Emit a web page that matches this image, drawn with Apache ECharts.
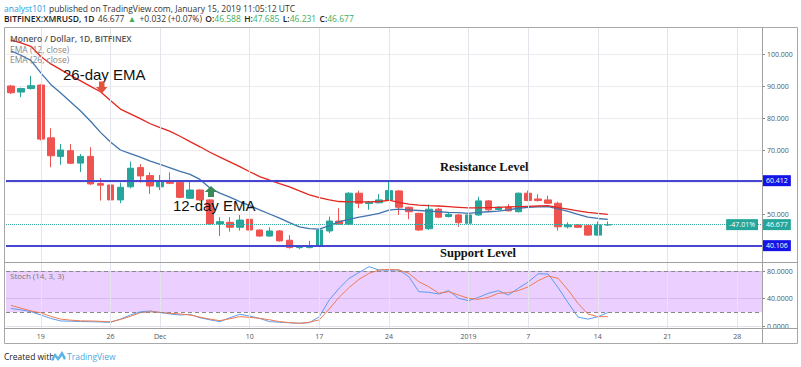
<!DOCTYPE html>
<html><head><meta charset="utf-8">
<script src="https://cdn.jsdelivr.net/npm/echarts@6/dist/echarts.min.js"></script>
<style>html,body{margin:0;padding:0;background:#fff}#c{width:801px;height:367px}</style>
</head><body><div id="c"></div><script>
const categories = ['11-16','11-17','11-18','11-19','11-20','11-21','11-22','11-23','11-24','11-25','11-26','11-27','11-28','11-29','11-30',
'12-01','12-02','12-03','12-04','12-05','12-06','12-07','12-08','12-09','12-10','12-11','12-12','12-13','12-14','12-15','12-16','12-17','12-18','12-19','12-20','12-21','12-22','12-23','12-24','12-25','12-26','12-27','12-28','12-29','12-30','12-31',
'01-01','01-02','01-03','01-04','01-05','01-06','01-07','01-08','01-09','01-10','01-11','01-12','01-13','01-14','01-15','01-16','01-17','01-18','01-19','01-20','01-21','01-22','01-23','01-24','01-25','01-26','01-27','01-28','01-29','01-30'];
const tickDates = ['11-19','11-26','12-01','12-10','12-17','12-24','01-01','01-07','01-14','01-21','01-28'];
const tickTexts = ['19','26','Dec','10','17','24','2019','7','14','21','28'];

const opens  = [90.0,88.1,89.2,90.3,73.8,68.0,69.8,65.9,68.0,59.5,59.07,54.4,58.5,64.5,62.0,58.5,60.3,59.9,54.9,57.5,54.4,46.9,47.4,45.85,48.35,45.0,43.1,44.7,41.8,39.5,39.5,40.0,44.7,47.8,46.8,56.5,53.3,53.5,54.4,57.2,52.1,50.2,45.4,51.5,49.2,49.7,47.1,49.7,54.1,51.4,52.1,50.7,56.5,54.7,54.4,53.35,46.0,46.6,46.35,43.4,46.588];
const closes = [87.9,89.2,90.1,73.4,68.2,70.0,65.85,68.0,59.4,59.0,54.4,58.35,64.3,61.9,58.75,60.3,59.6,55.2,57.5,54.4,46.9,47.6,45.85,48.1,45.0,43.1,44.7,41.6,39.5,39.6,40.0,45.0,47.8,46.8,56.5,53.35,53.7,54.4,57.3,52.1,50.7,45.0,51.5,49.0,49.9,47.3,49.7,54.1,51.3,52.1,51.0,56.5,54.2,54.2,53.35,46.0,46.6,45.85,43.4,46.6,46.677];
const lows   = [87.5,86.5,88.9,73.0,64.6,65.4,65.6,63.1,59.1,54.2,53.1,53.4,58.0,59.8,56.3,57.5,59.3,54.9,54.7,54.2,46.7,43.1,44.5,44.8,44.8,42.9,42.9,41.4,39.2,39.0,39.3,39.7,44.0,46.6,46.5,51.8,51.3,53.3,54.2,49.7,48.35,44.7,45.0,48.7,48.9,46.0,46.8,49.4,51.0,51.1,50.8,50.5,54.0,53.9,53.1,44.8,45.5,45.6,43.2,43.2,46.231];
const highs  = [90.3,89.5,93.2,90.5,76.8,71.9,71.9,68.75,70.85,61.2,61.5,59.8,66.35,65.6,63.0,62.2,63.0,60.3,60.1,57.7,54.6,49.0,49.0,49.7,48.85,45.2,45.85,45.0,43.4,40.0,41.6,45.2,49.2,51.8,56.8,57.3,54.0,56.2,60.3,57.5,52.3,50.4,53.0,51.9,50.3,50.0,50.1,55.4,54.4,52.4,53.1,56.7,57.3,56.2,55.7,53.85,47.4,46.8,46.6,47.6,47.685];

const ema12 = [101.0,99.6,98.0,94.1,90.5,87.8,85.0,82.2,79.0,75.5,72.5,70.0,68.9,67.8,66.5,65.5,64.4,63.3,62.4,60.8,58.1,56.5,55.3,53.85,52.6,51.3,50.0,48.7,47.3,46.0,45.4,45.3,46.4,47.6,48.3,49.0,49.6,50.2,51.2,51.5,51.3,51.1,50.9,50.7,50.5,50.4,50.2,50.5,50.7,50.9,51.3,51.8,52.1,52.2,52.3,51.6,50.8,49.9,49.0,48.6,48.35];
const ema26 = [104.3,103.5,102.4,99.2,96.9,95.1,93.3,91.6,89.9,88.2,85.5,82.8,81.3,79.8,78.2,77.0,75.8,74.3,72.6,71.0,69.3,67.8,66.3,64.8,63.2,61.7,60.6,59.5,58.5,57.2,56.0,55.1,54.4,53.9,53.8,53.8,53.8,53.9,54.3,53.6,53.1,52.8,52.6,52.5,52.3,52.1,51.9,51.9,52.0,52.1,52.2,52.3,52.4,52.5,52.6,52.0,51.5,51.0,50.5,50.2,49.9];

const stochK = [25.5,23.5,21,16,11,7.3,7,6.5,6.3,5.8,5.3,10,16,20.6,21.8,19.5,17.5,16,17,12,9,6.3,12,17,14.5,11,6.3,5.5,4.7,3.9,4.8,13.6,38,55,69.3,78,86.3,81.5,81,81.5,71.7,49.9,49,46.5,51.4,40.3,36.8,41.7,47.6,51.4,45,54.8,64,76,75.6,56,34,13,10,13.5,19.4];
const stochD = [30,26,22,19,14,10,8.5,7.5,7.3,6.8,6,9.5,14,19.4,20.6,20,18.5,17.5,16,13,10,7.8,10.5,13.6,12.5,11.2,9,6.3,5,3.9,5.5,9,25,42,56,68,76.6,81.5,82.5,81.5,76.6,64.4,57.1,47.6,50,45,40.3,38.8,41.7,47.6,48.5,51.4,57,65.9,72.7,69.3,52.4,33,17.5,13.6,13.6];

const resistance = 60.412, support = 40.106, lastClose = 46.677, lastChangeText = '-47.01%';
const stochUpper = 80, stochLower = 20;

const candleData = opens.map((o, i) => [o, closes[i], lows[i], highs[i]]);
const UP = '#26a69a', DOWN = '#ef5350';
const FONT = '"Open Sans", "Liberation Sans", sans-serif';

const chart = echarts.init(document.getElementById('c'), null, {renderer: 'svg'});
const baseGrid = {left: 6, right: 39};
const option = {
  animation: false,
  backgroundColor: '#ffffff',
  grid: [
    Object.assign({top: 54, height: 192}, baseGrid),
    Object.assign({top: 271, height: 55}, baseGrid),
    Object.assign({top: 27, height: 301}, baseGrid)
  ],
  xAxis: [
    {type: 'category', gridIndex: 0, data: categories, boundaryGap: true, show: false},
    {type: 'category', gridIndex: 1, data: categories, boundaryGap: true,
     axisLine: {show: false}, axisTick: {show: false}, splitLine: {show: false},
     axisLabel: {interval: (i, v) => tickDates.indexOf(v) >= 0, formatter: v => tickTexts[tickDates.indexOf(v)],
       color: '#555', fontSize: 7, fontFamily: FONT, margin: 7}},
    {type: 'category', gridIndex: 2, data: categories, boundaryGap: true, show: false}
  ],
  yAxis: [
    {type: 'value', gridIndex: 0, position: 'right', min: 40, max: 100, interval: 10, scale: true,
     axisLine: {show: false}, axisTick: {show: true, length: 3, lineStyle: {color: '#888'}},
     splitLine: {lineStyle: {color: '#ececf0'}},
     axisLabel: {color: '#555', fontSize: 7, fontFamily: FONT, margin: 5,
       formatter: v => (v === 40 || v === 60) ? '' : v.toFixed(3)}},
    {type: 'value', gridIndex: 1, position: 'right', min: 0, max: 80, interval: 40,
     axisLine: {show: false}, axisTick: {show: true, length: 3, lineStyle: {color: '#888'}},
     splitLine: {lineStyle: {color: '#e6e0ee'}},
     axisLabel: {color: '#555', fontSize: 7, fontFamily: FONT, margin: 5, formatter: v => v.toFixed(4)}},
    {type: 'value', gridIndex: 2, min: 0, max: 1, show: false}
  ],
  series: [
    {type: 'line', xAxisIndex: 2, yAxisIndex: 2, data: categories.map(() => null), silent: true, z: 1,
     markLine: {silent: true, symbol: 'none', label: {show: false},
       lineStyle: {color: '#e4e4ec', width: 1, type: 'solid'},
       data: tickDates.map(d => ({xAxis: d}))}},
    {type: 'candlestick', name: 'XMRUSD', xAxisIndex: 0, yAxisIndex: 0, data: candleData, barWidth: 7, clip: false, z: 3,
     itemStyle: {color: UP, color0: DOWN, borderColor: UP, borderColor0: DOWN, borderWidth: 1},
     markLine: {silent: true, symbol: 'none', animation: false,
       data: [
         {yAxis: resistance, lineStyle: {color: '#4646d2', width: 2, type: 'solid'},
          label: {show: true, position: 'end', distance: 0, formatter: resistance.toFixed(3), backgroundColor: '#1414e6', color: '#fff', fontSize: 7, fontFamily: FONT, padding: [2, 3, 2, 4]}},
         {yAxis: support, lineStyle: {color: '#4646d2', width: 2, type: 'solid'},
          label: {show: true, position: 'end', distance: 0, formatter: support.toFixed(3), backgroundColor: '#1414e6', color: '#fff', fontSize: 7, fontFamily: FONT, padding: [2, 3, 2, 4]}},
         {yAxis: lastClose, lineStyle: {color: '#3aaea2', width: 1, type: 'dotted'},
          label: {show: true, position: 'end', distance: 0, formatter: lastClose.toFixed(3), backgroundColor: '#26a69a', color: '#fff', fontSize: 7, fontFamily: FONT, padding: [2, 3, 2, 4]}}
       ]}},
    {type: 'line', name: 'EMA (12, close)', xAxisIndex: 0, yAxisIndex: 0, data: ema12, showSymbol: false, clip: false, z: 4,
     lineStyle: {color: '#3f74ad', width: 1.3}},
    {type: 'line', name: 'EMA (26, close)', xAxisIndex: 0, yAxisIndex: 0, data: ema26, showSymbol: false, clip: false, z: 4,
     lineStyle: {color: '#e3261f', width: 1.3}},
    {type: 'line', name: '%K', xAxisIndex: 1, yAxisIndex: 1, data: stochK, showSymbol: false, clip: false, z: 4,
     lineStyle: {color: '#5a9cf2', width: 1},
     markArea: {silent: true, itemStyle: {color: 'rgba(153,21,255,0.2)'}, data: [[{yAxis: stochLower}, {yAxis: stochUpper}]]},
     markLine: {silent: true, symbol: 'none', label: {show: false}, lineStyle: {color: '#8a8a8a', width: 1, type: [4, 3]},
       data: [{yAxis: stochUpper}, {yAxis: stochLower}]}},
    {type: 'line', name: '%D', xAxisIndex: 1, yAxisIndex: 1, data: stochD, showSymbol: false, clip: false, z: 4,
     lineStyle: {color: '#f07a50', width: 1}}
  ]
};
chart.setOption(option);

const yLast = chart.convertToPixel({yAxisIndex: 0}, lastClose);
const green = '#3fae5a';
const graphics = [
  // frame
  {type: 'rect', shape: {x: 4.5, y: 27.5, width: 793, height: 316}, style: {fill: 'none', stroke: '#a8a8a8', lineWidth: 1}, z: 50, silent: true},
  {type: 'line', shape: {x1: 4, y1: 262.5, x2: 798, y2: 262.5}, style: {stroke: '#a0a0a0', lineWidth: 1}, z: 50, silent: true},
  {type: 'line', shape: {x1: 4, y1: 328.5, x2: 798, y2: 328.5}, style: {stroke: '#a0a0a0', lineWidth: 1}, z: 50, silent: true},
  {type: 'line', shape: {x1: 762.5, y1: 27, x2: 762.5, y2: 343}, style: {stroke: '#a0a0a0', lineWidth: 1}, z: 50, silent: true},
  // header
  {type: 'text', x: 4, y: 8, z: 60, style: {text: '{a|analyst101}{b| published on TradingView.com, January 15, 2019 11:05:12 UTC}',
    verticalAlign: 'middle', rich: {a: {fill: '#2a9be0', font: '8.5px ' + FONT}, b: {fill: '#333', font: '8.5px ' + FONT}}}},
  {type: 'text', x: 4, y: 18, z: 60, style: {text: '{k|BITFINEX:XMRUSD, 1D} {n|46.677} {g|▲} {n|+0.032 (+0.07%)} {k|O:}{g|46.588} {k|H:}{g|47.685} {k|L:}{g|46.231} {k|C:}{g|46.677}',
    verticalAlign: 'middle', rich: {k: {fill: '#222', font: '600 8.5px ' + FONT}, n: {fill: '#333', font: '8.5px ' + FONT}, g: {fill: green, font: '8.5px ' + FONT}}}},
  // legend texts
  {type: 'text', x: 10, y: 38.5, z: 60, style: {text: 'Monero / Dollar, 1D, BITFINEX', fill: '#555', font: '600 8.5px ' + FONT, verticalAlign: 'middle'}},
  {type: 'text', x: 10, y: 49, z: 60, style: {text: 'EMA (12, close)', fill: '#888', font: '8.5px ' + FONT, verticalAlign: 'middle'}},
  {type: 'text', x: 10, y: 59.5, z: 60, style: {text: 'EMA (26, close)', fill: '#888', font: '8.5px ' + FONT, verticalAlign: 'middle'}},
  {type: 'text', x: 10, y: 275, z: 60, style: {text: 'Stoch (14, 3, 3)', fill: '#777', font: '8px ' + FONT, verticalAlign: 'middle'}},
  // annotations
  {type: 'text', x: 63, y: 74, z: 60, style: {text: '26-day EMA', fill: '#111', font: '15px "Liberation Sans", Arial, sans-serif', verticalAlign: 'middle'}},
  {type: 'polygon', z: 60, shape: {points: [[99,81.5],[104.5,81.5],[104.5,87],[107.5,87],[101.75,93.5],[96,87],[99,87]]}, style: {fill: '#e4523c'}},
  {type: 'text', x: 173, y: 205, z: 60, style: {text: '12-day EMA', fill: '#111', font: '15px "Liberation Sans", Arial, sans-serif', verticalAlign: 'middle'}},
  {type: 'polygon', z: 60, shape: {points: [[211,186],[217.3,192],[214,192],[214,197],[208,197],[208,192],[204.7,192]]}, style: {fill: '#3a8a58'}},
  {type: 'text', x: 440, y: 167, z: 60, style: {text: 'Resistance Level', fill: '#111', font: 'bold 12.5px "Liberation Serif", "Times New Roman", serif', verticalAlign: 'middle'}},
  {type: 'text', x: 440, y: 253, z: 60, style: {text: 'Support Level', fill: '#111', font: 'bold 12.5px "Liberation Serif", "Times New Roman", serif', verticalAlign: 'middle'}},
  // percent box near price axis
  {type: 'text', x: 758, y: yLast, z: 60, style: {text: lastChangeText, fill: '#fff', backgroundColor: '#26a69a', padding: [2, 3, 2, 3],
    font: '7px ' + FONT, align: 'right', verticalAlign: 'middle'}},
  // footer
  {type: 'text', x: 4, y: 356, z: 60, style: {text: 'Created with', fill: '#222', font: '8.5px ' + FONT, verticalAlign: 'middle'}},
  {type: 'polygon', z: 60, shape: {points: [[51,360],[55,353],[58,357],[62,351],[66,358],[64,360],[62,356],[58,361],[55,357],[53,361]]}, style: {fill: '#5ab4e6'}},
  {type: 'text', x: 67, y: 356, z: 60, style: {text: 'TradingView', fill: '#4fa8dc', font: '8.5px ' + FONT, verticalAlign: 'middle'}}
];
chart.setOption({graphic: graphics});
</script></body></html>
